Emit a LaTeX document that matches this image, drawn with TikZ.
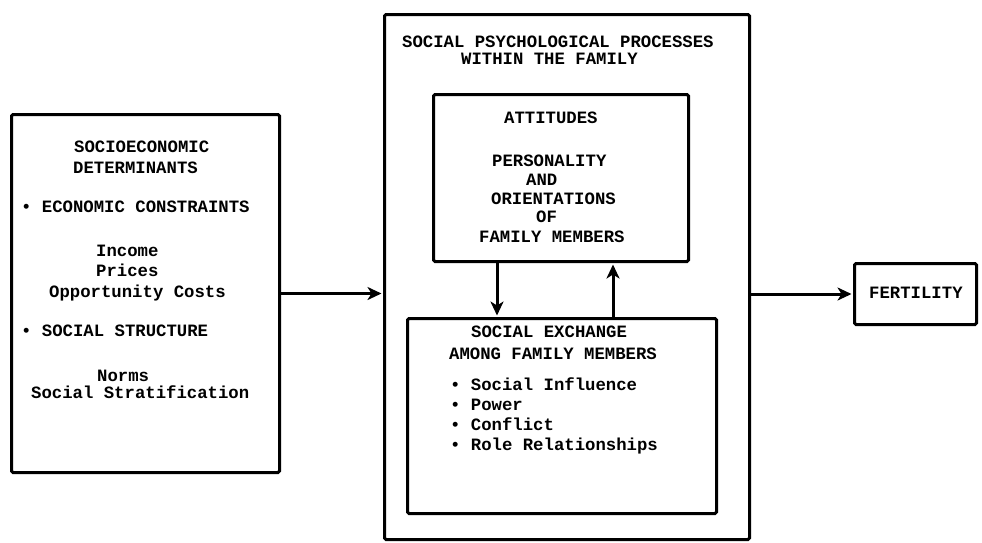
\documentclass[tikz,border=0pt]{standalone}
\usepackage{fontspec}
\setmonofont{Liberation Mono}
\usetikzlibrary{arrows.meta}
\begin{document}
\begin{tikzpicture}[x=1pt,y=-1pt,
  box/.style={draw, line width=3pt, rounded corners=1.5pt, inner sep=0pt, anchor=north west},
  txt/.style={anchor=base west, inner sep=0pt, font=\ttfamily\bfseries\fontsize{17.3}{19}\selectfont},
  link/.style={line width=3pt, shorten >=1.5pt, -{Stealth[length=14pt,width=13pt,inset=4pt]}}]
\useasboundingbox[fill=white] (0,0) rectangle (982,542);

% boxes
\node[box, minimum width=268pt, minimum height=358pt] (socio) at (10,113) {};
\node[box, minimum width=365pt, minimum height=525pt] (spp) at (383,13) {};
\node[box, minimum width=255pt, minimum height=167pt] (att) at (432,93) {};
\node[box, minimum width=309pt, minimum height=195pt] (exch) at (406,317) {};
\node[box, minimum width=122pt, minimum height=61pt] (fert) at (853,262) {};

% socioeconomic determinants
\node[txt] (s1) at (74,152) {SOCIOECONOMIC};
\node[txt] (s2) at (73,173) {DETERMINANTS};
\node[txt] (s3) at (21,212) {• ECONOMIC CONSTRAINTS};
\node[txt] (s4) at (96,256) {Income};
\node[txt] (s5) at (96,276) {Prices};
\node[txt] (s6) at (49,297) {Opportunity Costs};
\node[txt] (s7) at (21,336) {• SOCIAL STRUCTURE};
\node[txt] (s8) at (97,381) {Norms};
\node[txt] (s9) at (31,398) {Social Stratification};

% social psychological processes
\node[txt] (p1) at (402,47) {SOCIAL PSYCHOLOGICAL PROCESSES};
\node[txt] (p2) at (461,64) {WITHIN THE FAMILY};

% attitudes
\node[txt] (a1) at (504,123) {ATTITUDES};
\node[txt] (a2) at (492,166) {PERSONALITY};
\node[txt] (a3) at (526,185) {AND};
\node[txt] (a4) at (491,204) {ORIENTATIONS};
\node[txt] (a5) at (536,222) {OF};
\node[txt] (a6) at (479,242) {FAMILY MEMBERS};

% social exchange
\node[txt] (e1) at (471,337) {SOCIAL EXCHANGE};
\node[txt] (e2) at (449,359) {AMONG FAMILY MEMBERS};
\node[txt] (e3) at (450,390) {• Social Influence};
\node[txt] (e4) at (450,410) {• Power};
\node[txt] (e5) at (450,430) {• Conflict};
\node[txt] (e6) at (450,450) {• Role Relationships};

% fertility
\node[txt] (f1) at (869,298) {FERTILITY};

% connectors
\draw[link] (socio.east) -- (socio.east -| spp.west);
\draw[link] (spp.east |- fert.west) -- (fert.west);
\draw[link] ([xshift=65pt]att.south west) -- ([xshift=65pt]att.south west |- exch.north);
\draw[link] ([xshift=181pt]att.south west |- exch.north) -- ([xshift=181pt]att.south west);
\end{tikzpicture}
\end{document}
